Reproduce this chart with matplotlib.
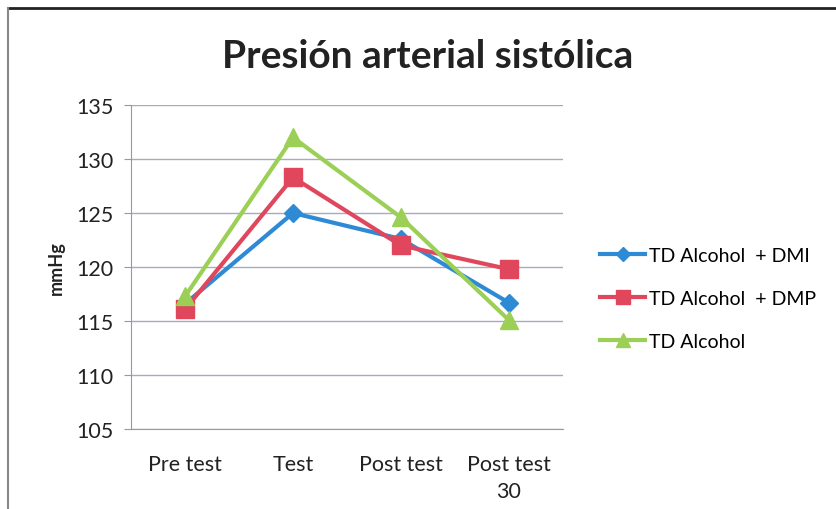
import matplotlib
matplotlib.use("Agg")
import matplotlib.pyplot as plt
from matplotlib.lines import Line2D

categorias = ["Pre test", "Test", "Post test", "Post test\n30"]
dmi = [116.6, 125.0, 122.6, 116.7]
dmp = [116.1, 128.3, 122.0, 119.8]
alcohol = [117.3, 132.0, 124.6, 115.1]
etiquetas = ["TD Alcohol  + DMI", "TD Alcohol  + DMP", "TD Alcohol"]

plt.rcParams["font.family"] = ["Lato", "DejaVu Sans"]

fig = plt.figure(figsize=(8.36, 5.10), dpi=100)
ax = fig.add_axes([0.157, 0.157, 0.516, 0.635])

x = range(len(categorias))
ax.plot(x, dmi, color="#2f8ad6", linewidth=3, marker="D", markersize=9,
        label=etiquetas[0], zorder=3)
ax.plot(x, dmp, color="#e0465c", linewidth=3, marker="s", markersize=13,
        label=etiquetas[1], zorder=4)
ax.plot(x, alcohol, color="#9ccf55", linewidth=3, marker="^", markersize=13,
        label=etiquetas[2], zorder=5)

ax.set_xlim(-0.5, len(categorias) - 0.5)
ax.set_ylim(105, 135)
ax.set_yticks(range(105, 136, 5))
ax.set_xticks(list(x))
ax.set_xticklabels(categorias, fontsize=15.5, color="#222222", linespacing=1.45)
ax.tick_params(axis="y", labelsize=15.5, colors="#222222", length=5, color="#999999", pad=8)
ax.tick_params(axis="x", length=0, pad=18)
ax.grid(axis="y", color="#a8aab8", linewidth=1)
ax.set_axisbelow(True)
for s in ["top", "right"]:
    ax.spines[s].set_visible(False)
ax.spines["left"].set_color("#999999")
ax.spines["bottom"].set_color("#999999")

# etiqueta del eje y colocada a mano
fig.text(0.068, 0.475, "mmHg", rotation=90, ha="center", va="center",
         fontsize=13, fontweight="bold", color="#222222")
fig.text(0.511, 0.89, "Presión arterial sistólica", ha="center", va="center",
         fontsize=28, fontweight="bold", color="#222222")

leg = fig.legend(loc="center left", bbox_to_anchor=(0.697, 0.413), frameon=False,
                 fontsize=14, handlelength=2.3, labelspacing=1.35, handletextpad=0.2,
                 markerscale=0.8)

# marco de la figura
fig.add_artist(Line2D([0.009, 1], [0.983, 0.983], color="#222222", linewidth=2))
fig.add_artist(Line2D([0.009, 0.009], [0, 0.983], color="#888888", linewidth=1.5))

fig.savefig("out.png", dpi=100)
